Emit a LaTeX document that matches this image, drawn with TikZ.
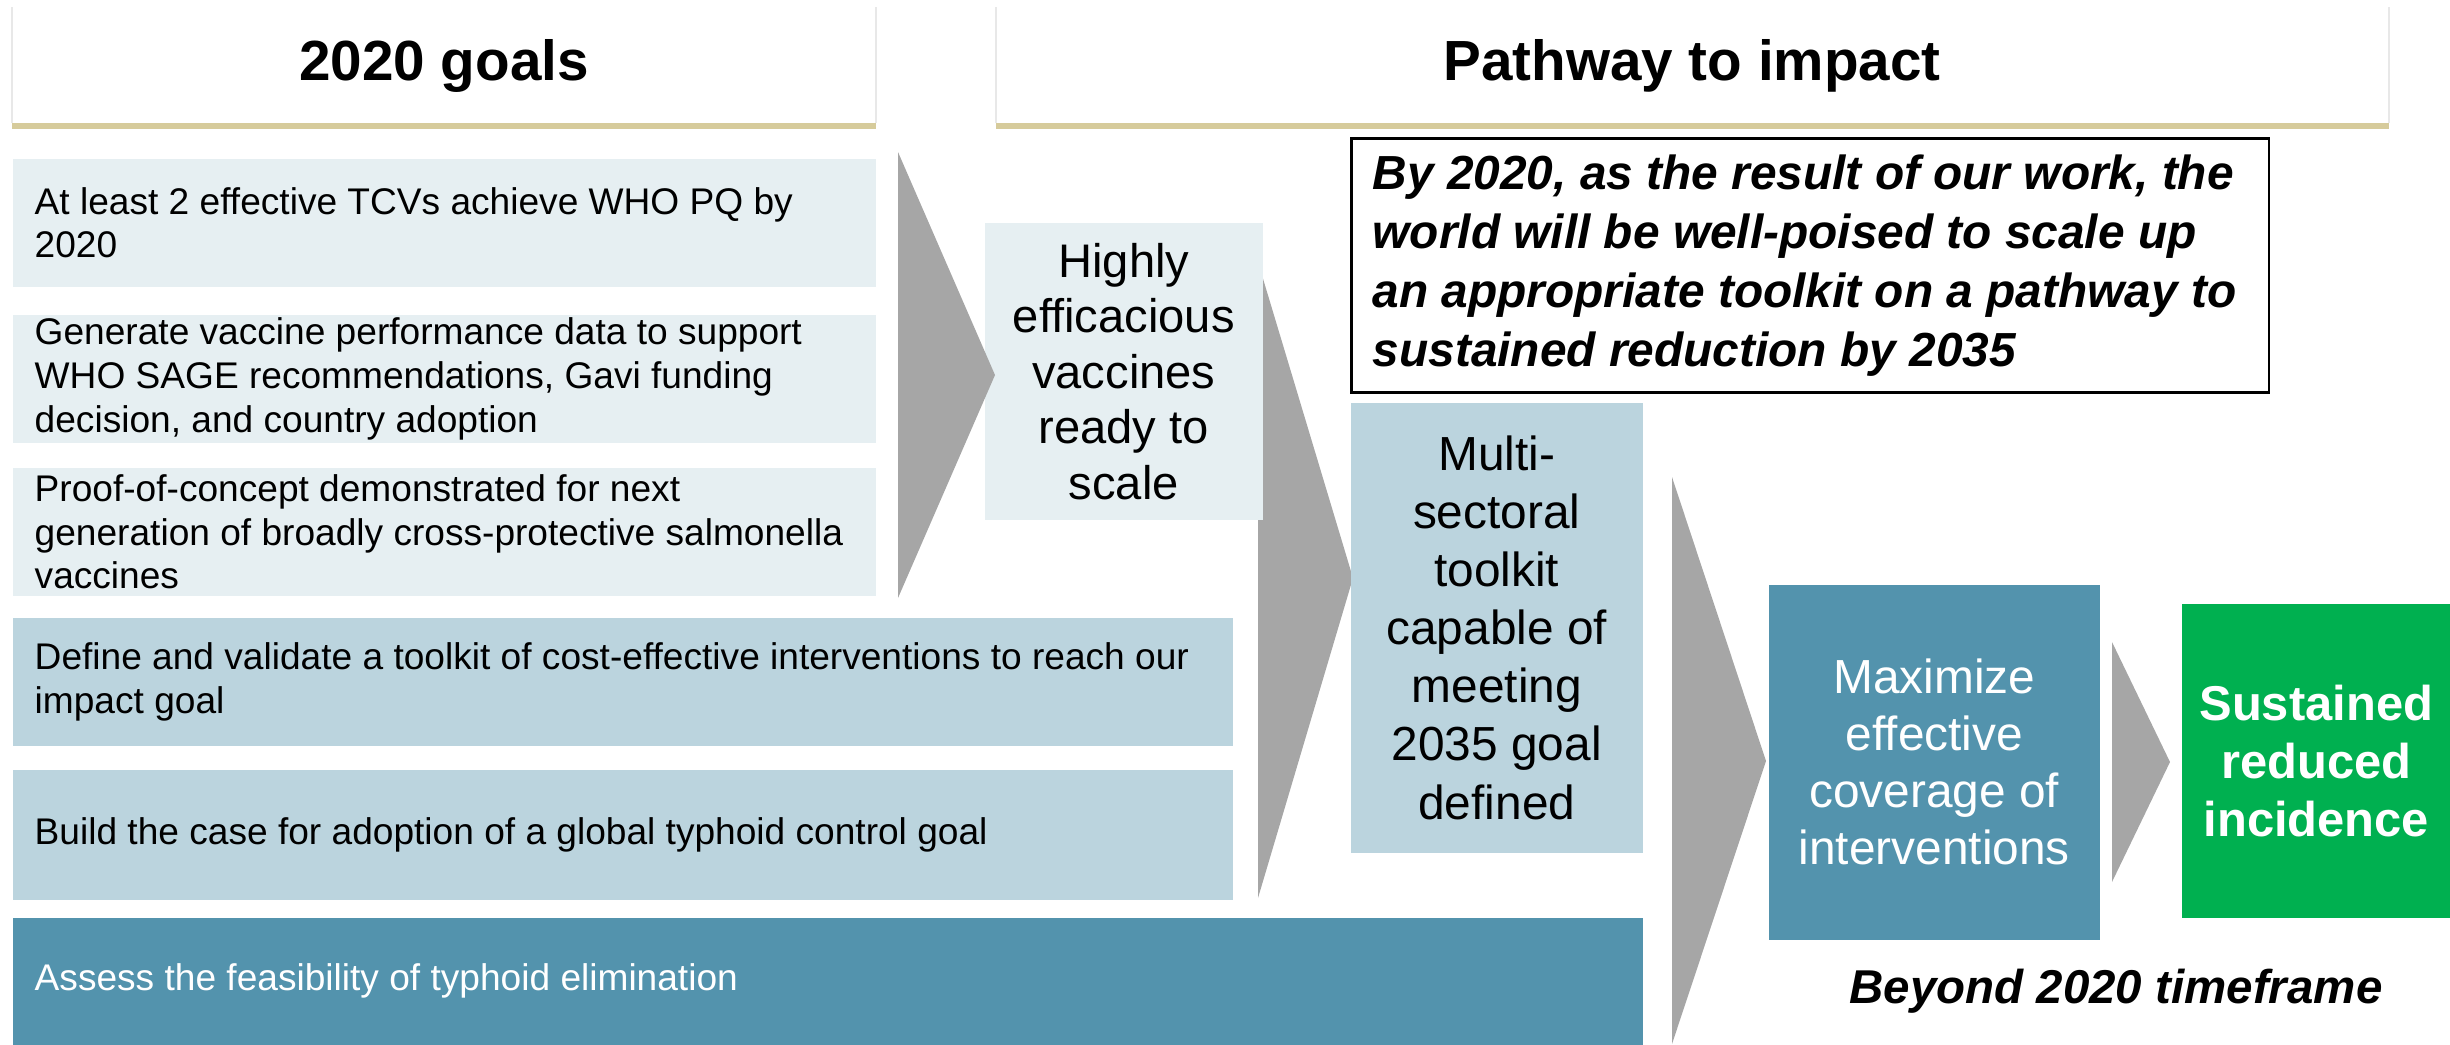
\documentclass[tikz,border=0pt]{standalone}
\usepackage{fontspec}
\setmainfont{Liberation Sans}
\definecolor{lightbox}{RGB}{230,239,242}
\definecolor{midbox}{RGB}{187,212,222}
\definecolor{darkbox}{RGB}{83,147,173}
\definecolor{arrowgray}{RGB}{166,166,166}
\definecolor{goldbar}{RGB}{214,203,155}
\definecolor{greenbox}{RGB}{0,176,80}
\definecolor{hdredge}{RGB}{232,232,232}
\begin{document}
\begin{tikzpicture}[x=0.01cm,y=-0.01cm,
  hdr/.style={font=\fontsize{16.1pt}{19pt}\selectfont\bfseries, inner sep=0},
  goalbox/.style={anchor=north west, inner sep=0, minimum height=1.28cm},
  goaltext/.style={anchor=west, inner sep=0, align=left,
    font=\fontsize{10.55pt}{12.5pt}\selectfont},
  bigbox/.style={anchor=north west, inner sep=0, align=center,
    font=\fontsize{13.6pt}{16.5pt}\selectfont},
  chevron/.style={fill=arrowgray}
]
\useasboundingbox (0,0) rectangle (2450,1044);

% headers
\draw[hdredge] (12,123) -- (12,7);
\draw[hdredge] (876,7) -- (876,123);
\fill[goldbar] (12,123) rectangle (876,129);
\node[hdr] (h1) at (444,66) {2020 goals};
\draw[hdredge] (996,123) -- (996,7);
\draw[hdredge] (2389,7) -- (2389,123);
\fill[goldbar] (996,123) rectangle (2389,129);
\node[hdr] (h2) at (1692,66) {Pathway to impact};

% goals
\node[goalbox, fill=lightbox, minimum width=8.63cm] (g1) at (12,158) {};
\node[goaltext] (g1t) at ([xshift=0.22cm]g1.west)
  {At least 2 effective TCVs achieve WHO PQ by\\2020};
\node[goalbox, fill=lightbox, minimum width=8.63cm] (g2) at (12,314) {};
\node[goaltext] (g2t) at ([xshift=0.22cm]g2.west)
  {Generate vaccine performance data to support\\WHO SAGE recommendations, Gavi funding\\decision, and country adoption};
\node[goalbox, fill=lightbox, minimum width=8.63cm] (g3) at (12,467) {};
\node[goaltext] (g3t) at ([xshift=0.22cm]g3.west)
  {Proof-of-concept demonstrated for next\\generation of broadly cross-protective salmonella\\vaccines};
\node[goalbox, fill=midbox, minimum width=12.20cm] (g4) at (12,617) {};
\node[goaltext] (g4t) at ([xshift=0.22cm]g4.west)
  {Define and validate a toolkit of cost-effective interventions to reach our\\impact goal};
\node[goalbox, fill=midbox, minimum width=12.20cm, minimum height=1.30cm] (g5) at (12,769) {};
\node[goaltext] (g5t) at ([xshift=0.22cm]g5.west)
  {Build the case for adoption of a global typhoid control goal};
\node[goalbox, fill=darkbox, minimum width=16.29cm, minimum height=1.27cm] (g6) at (12,917) {};
\node[goaltext, text=white] (g6t) at ([xshift=0.22cm]g6.west)
  {Assess the feasibility of typhoid elimination};

% arrow 2 (under the vaccines box)
\fill[chevron] (1258,262) -- (1353,578) -- (1258,898) -- cycle;

\node[bigbox, fill=lightbox, minimum width=2.78cm, minimum height=2.97cm,
  font=\fontsize{13.4pt}{15.8pt}\selectfont] (vacc) at (984,222)
  {Highly\\efficacious\\vaccines\\ready to\\scale};

% arrow 1
\fill[chevron] (898,152) -- (995,375) -- (898,598) -- cycle;

% statement
\node[anchor=north west, draw=black, line width=0.8pt, inner sep=0,
  minimum width=9.17cm, minimum height=2.54cm] (stmt) at (1350,137) {};
\node[anchor=west, inner sep=0, align=left,
  font=\fontsize{13.6pt}{16.8pt}\selectfont\bfseries\itshape] (stmtt) at ([xshift=0.22cm]stmt.west)
  {By 2020, as the result of our work, the\\world will be well-poised to scale up\\an appropriate toolkit on a pathway to\\sustained reduction by 2035};

\node[bigbox, fill=midbox, minimum width=2.92cm, minimum height=4.50cm] (multi) at (1350,402)
  {Multi-\\sectoral\\toolkit\\capable of\\meeting\\2035 goal\\defined};

% arrow 3
\fill[chevron] (1672,477) -- (1766,761) -- (1672,1044) -- cycle;

\node[bigbox, fill=darkbox, text=white, minimum width=3.31cm, minimum height=3.55cm,
  font=\fontsize{13.6pt}{16.2pt}\selectfont] (maxi) at (1768,584)
  {Maximize\\effective\\coverage of\\interventions};

% arrow 4
\fill[chevron] (2112,642) -- (2170,762) -- (2112,882) -- cycle;

\node[bigbox, fill=greenbox, text=white, minimum width=2.69cm, minimum height=3.14cm,
  font=\fontsize{13.9pt}{16.5pt}\selectfont\bfseries] (sust) at (2181,603)
  {Sustained\\reduced\\incidence};

\node[inner sep=0, font=\fontsize{13.5pt}{16pt}\selectfont\bfseries\itshape] (beyond) at (2116,991)
  {Beyond 2020 timeframe};
\end{tikzpicture}
\end{document}
